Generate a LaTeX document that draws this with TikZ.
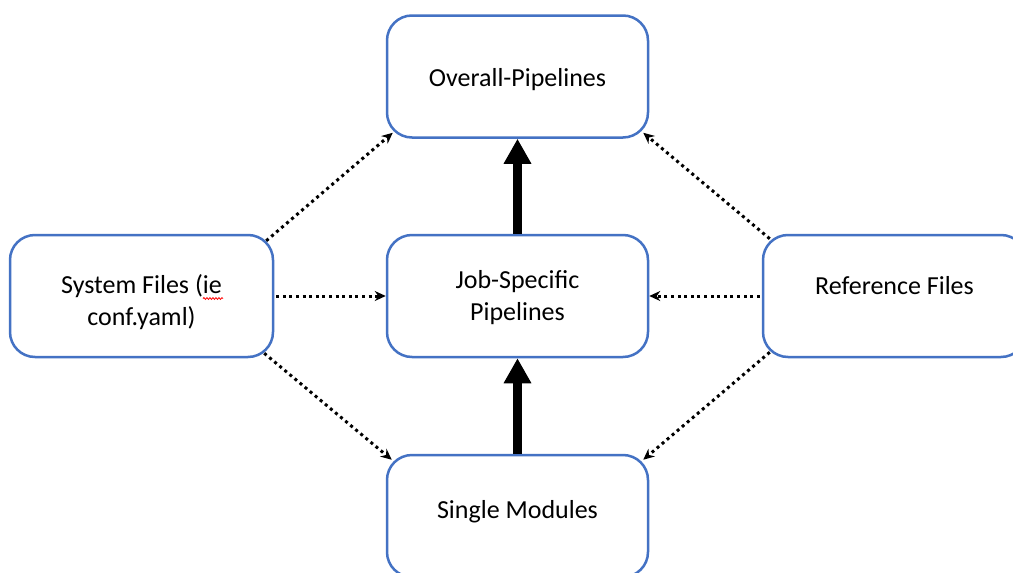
\documentclass[tikz,border=0pt]{standalone}
\usepackage{fontspec}
\setmainfont{Carlito}
\usetikzlibrary{arrows.meta,calc,decorations.pathmorphing}
\definecolor{boxblue}{HTML}{4472C4}
\tikzset{
  box/.style={draw=boxblue, line width=2.5pt, rounded corners=25pt, fill=white,
    minimum width=261pt, minimum height=122pt, inner sep=0pt},
  txt/.style={align=center, inner sep=0pt, font=\fontsize{26}{32}\selectfont, anchor=base},
  bigarrow/.style={line width=9pt, -{Triangle[width=26pt,length=25pt]}},
  dotarrow/.style={line width=3pt, dash pattern=on 3pt off 3.6pt,
    -{Stealth[length=11pt,width=10pt]}},
}
\begin{document}
\begin{tikzpicture}[x=1pt,y=-1pt]
\path[use as bounding box, clip] (0,0) rectangle (1013,573);
\fill[white] (0,0) rectangle (1013,573);

\node[box] (over) at (517.5,76.5) {};
\node[box] (job) at (517.5,296) {};
\node[box] (single) at (517.5,516) {};
\node[box, minimum width=263pt] (sys) at (141.5,296) {};
\node[box, minimum width=263pt] (ref) at (894.5,296) {};

\node[txt] (overtxt) at (517.5,86) {Overall-Pipelines};
\node[txt] (jobtxt) at (517.5,320) {Job-Specific\\Pipelines};
\node[txt] (singletxt) at (517.5,518) {Single Modules};
\node[txt] (systxt) at (141.5,325) {System Files (ie\\conf.yaml)};
\node[txt] (reftxt) at (894.5,294) {Reference Files};

\draw[red, line width=0.8pt, decorate, decoration={snake, amplitude=0.9pt, segment length=3pt}] (203,298.5) -- (223,298.5);

\draw[bigarrow] (job.north) -- (over.south);
\draw[bigarrow] (single.north) -- (job.south);

\draw[dotarrow] ($(sys.east)+(2,0)$) -- (job.west);
\draw[dotarrow] ($(ref.west)+(-2,0)$) -- (job.east);

\draw[dotarrow] ($(sys.north east)+(-8,7)$) -- ($(over.south west)+(7,-6)$);
\draw[dotarrow] ($(sys.south east)+(-10,-5)$) -- ($(single.north west)+(6,6)$);
\draw[dotarrow] ($(ref.north west)+(8,5)$) -- ($(over.south east)+(-6,-6)$);
\draw[dotarrow] ($(ref.south west)+(8,-6)$) -- ($(single.north east)+(-6,6)$);
\end{tikzpicture}
\end{document}
